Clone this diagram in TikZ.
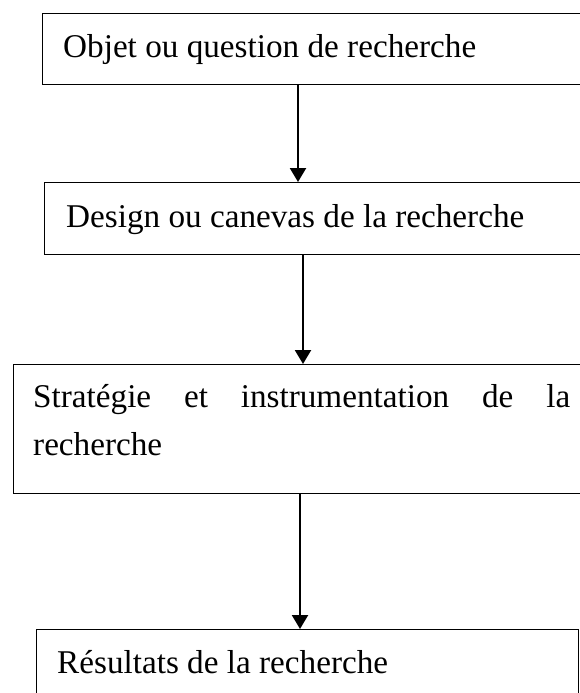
\documentclass[tikz,border=0pt]{standalone}
\usepackage{fontspec}
\setmainfont{Liberation Serif}
\usetikzlibrary{arrows.meta}
\begin{document}
\begin{tikzpicture}[x=1pt,y=-1pt,
  box/.style={draw, line width=1.3pt, rectangle, inner sep=0pt, anchor=north west},
  lbl/.style={anchor=base west, inner sep=0pt, font=\fontsize{33.2}{48}\selectfont},
  arr/.style={line width=2.2pt, -{Triangle[width=16pt,length=14pt]}}]
\useasboundingbox (0,0) rectangle (580,693);
\clip (0,0) rectangle (580,693);
\fill[white] (0,0) rectangle (580,693);
\node[box, minimum width=558pt, minimum height=71pt] (b1) at (42,13) {};
\node[box, minimum width=556pt, minimum height=72pt] (b2) at (44,182) {};
\node[box, minimum width=587pt, minimum height=129pt] (b3) at (13,364) {};
\node[box, minimum width=542pt, minimum height=90pt] (b4) at (36,629) {};
\node[lbl] (t1) at (63,57) {Objet ou question de recherche};
\node[lbl] (t2) at (66,227) {Design ou canevas de la recherche};
\node[lbl] (t3) at (33,407) {\parbox[t]{537pt}{\makebox[\linewidth][s]{Stratégie et instrumentation de la}\\recherche}};
\node[lbl] (t4) at (57,673) {Résultats de la recherche};
\coordinate (x1) at (298,0);
\coordinate (x2) at (303,0);
\coordinate (x3) at (300,0);
\draw[arr] (b1.south -| x1) -- (b2.north -| x1);
\draw[arr] (b2.south -| x2) -- (b3.north -| x2);
\draw[arr] (b3.south -| x3) -- (b4.north -| x3);
\end{tikzpicture}
\end{document}
